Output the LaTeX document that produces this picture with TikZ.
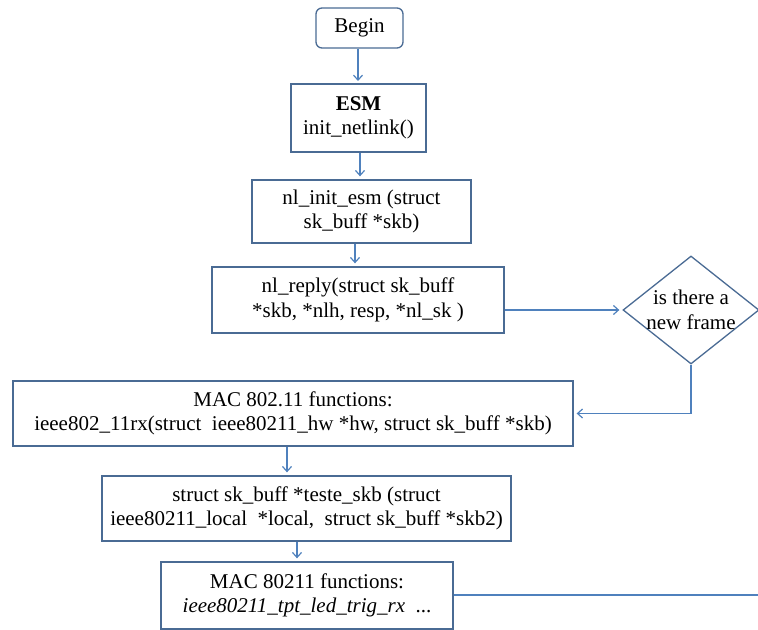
\documentclass[tikz,border=0pt]{standalone}
\usepackage{fontspec}
\setmainfont{Liberation Serif}
\usetikzlibrary{shapes.geometric,arrows.meta}
\definecolor{boxline}{RGB}{74,107,148}
\definecolor{flowline}{RGB}{79,129,189}
\begin{document}
\begin{tikzpicture}[x=1bp,y=1bp,
  every node/.style={font=\fontsize{21bp}{24.5bp}\selectfont, text=black},
  procbox/.style={draw=boxline, line width=1.3bp, fill=white, align=center, inner sep=0pt},
  flow/.style={draw=flowline, line width=1.3bp},
  arr/.style={flow, -{Straight Barb[length=5bp,width=9bp,line width=1.2bp]}, shorten >=3bp}]
\useasboundingbox (0,0) rectangle (758,-630);

% process boxes
\node[procbox, rounded corners=6bp, minimum width=87bp, minimum height=40bp] (begin) at (359.5,-28) {Begin};
\node[procbox, minimum width=135bp, minimum height=68bp] (esm) at (358.5,-118) {\textbf{ESM}\\init\_netlink()};
\node[procbox, minimum width=219bp, minimum height=63bp] (init) at (361.5,-211.5) {nl\_init\_esm (struct\\sk\_buff *skb)};
\node[procbox, minimum width=292bp, minimum height=66bp] (reply) at (358,-300) {nl\_reply(struct sk\_buff\\*skb, *nlh, resp, *nl\_sk )};
\node[procbox, minimum width=560bp, minimum height=65bp] (mac1) at (293,-413.5) {MAC 802.11 functions:\\ieee802\_11rx(struct\ \ ieee80211\_hw *hw, struct sk\_buff *skb)};
\node[procbox, minimum width=409bp, minimum height=65bp] (teste) at (306.5,-508.5) {struct sk\_buff *teste\_skb (struct\\ieee80211\_local\ \ *local,\ \ struct sk\_buff *skb2)};
\node[procbox, minimum width=292bp, minimum height=67bp] (mac2) at (307,-595.5) {MAC 80211 functions:\\\textit{ieee80211\_tpt\_led\_trig\_rx}\ \ ...};

% decision
\node[diamond, draw=boxline, line width=1.3bp, fill=white, minimum width=136bp, minimum height=108bp, inner sep=0pt] (dec) at (691,-310) {};
\node[align=center] (dectext) at (dec) {is there a\\new frame};

\coordinate (out) at (758,-595);

% connectors
\draw[arr] (begin.south -| 358,0) -- (358,-84);
\draw[arr] (esm.south -| 360,0) -- (init.north -| 360,0);
\draw[arr] (init.south -| 355,0) -- (reply.north -| 355,0);
\draw[arr] (reply.east |- dec.west) -- (dec.west);
\draw[arr] (dec.south) |- (mac1.east);
\draw[arr] (mac1.south -| 287,0) -- (teste.north -| 287,0);
\draw[arr] (teste.south -| 297,0) -- (mac2.north -| 297,0);
\draw[flow] (mac2.east |- out) -- (out);
\end{tikzpicture}
\end{document}
